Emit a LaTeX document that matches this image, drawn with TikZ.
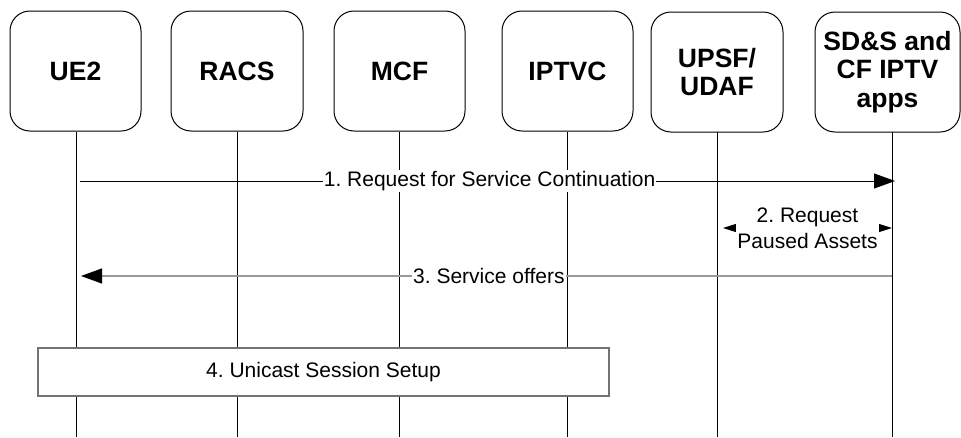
\documentclass[tikz,border=0pt]{standalone}
\usepackage{fontspec}
\setmainfont{Liberation Sans}
\usetikzlibrary{arrows.meta}
\frenchspacing
\begin{document}
\begin{tikzpicture}[x=1pt,y=-1pt,
  ent/.style={draw=black, line width=1pt, rounded corners=20pt, minimum height=120pt,
    align=center, inner sep=0pt, font=\fontsize{26.5}{28.5}\selectfont\bfseries},
  lifeline/.style={draw=black, line width=0.9pt},
  msg/.style={draw=black, line width=0.9pt},
  dotmsg/.style={draw=gray!80, line width=1.1pt, dash pattern=on 0.6pt off 0.4pt},
  lbl/.style={fill=white, inner sep=1pt, align=center, font=\fontsize{21}{26}\selectfont},
  bigtip/.style={-{Triangle[length=21pt,width=15pt,black]}},
  smalltip/.style={{Triangle[length=13pt,width=8pt]}-{Triangle[length=13pt,width=8pt]}},
  procbox/.style={draw=gray!90!black, line width=1.4pt, fill=white, inner sep=0pt,
    font=\fontsize{21}{26}\selectfont}
]
\useasboundingbox (0,0) rectangle (961,437);

% entity boxes
\node[ent, minimum width=131pt] (ue)    at (75.5,71)  {UE2};
\node[ent, minimum width=132pt] (racs)  at (237,71)   {RACS};
\node[ent, minimum width=131pt] (mcf)   at (399.5,71) {MCF};
\node[ent, minimum width=131pt] (iptvc) at (567.5,71) {IPTVC};
\node[ent, minimum width=132pt] (upsf)  at (717,72)   {UPSF/\\UDAF};
\node[ent, minimum width=145pt] (sds)   at (887.5,72) {SD\&S and\\CF IPTV\\apps};

% lifeline coordinates
\coordinate (ueT) at (76,132);   \coordinate (ueB) at (76,437);
\coordinate (raT) at (237,132);  \coordinate (raB) at (237,437);
\coordinate (mcT) at (399,132);  \coordinate (mcB) at (399,437);
\coordinate (ipT) at (567,132);  \coordinate (ipB) at (567,437);
\coordinate (upT) at (717,132);  \coordinate (upB) at (717,437);
\coordinate (sdT) at (892,132);  \coordinate (sdB) at (892,437);

\draw[lifeline] (ueT) -- (ueB);
\draw[lifeline] (raT) -- (raB);
\draw[lifeline] (mcT) -- (mcB);
\draw[lifeline] (ipT) -- (ipB);
\draw[lifeline] (upT) -- (upB);
\draw[lifeline] (sdT) -- (sdB);

% message rows
\coordinate (r1) at (0,181);
\coordinate (r2) at (0,228);
\coordinate (r3) at (0,276);
\coordinate (ue1) at (ueT |- r1);
\coordinate (sd1) at (895,181);
\coordinate (up2) at (upT |- r2);
\coordinate (sd2) at (sdT |- r2);
\coordinate (sd3) at (sdT |- r3);
\coordinate (ue3) at (ueT |- r3);

% 1
\draw[msg, bigtip, shorten <=4pt] (ue1) -- (sd1)
  node[lbl, pos=0.505] {1. Request for Service Continuation};
% 2
\draw[msg, smalltip, shorten <=6pt] (up2) -- (sd2)
  node[lbl, midway, xshift=3pt] {2. Request\\Paused Assets};
% 3
\draw[dotmsg, bigtip, shorten >=5pt] (sd3) -- (ue3)
  node[lbl, pos=0.494] {3. Service offers};

% 4
\node[procbox, minimum width=571pt, minimum height=48pt] (p4) at (323.5,372)
  {4. Unicast Session Setup};
\end{tikzpicture}
\end{document}
